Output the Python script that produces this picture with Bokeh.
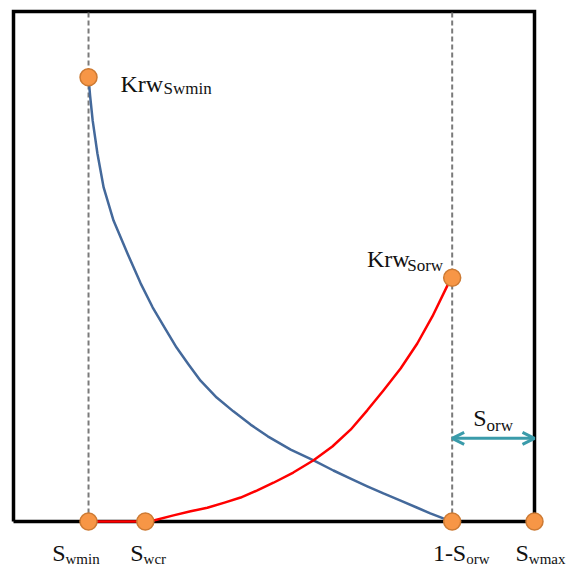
from bokeh.plotting import figure
from bokeh.models import Range1d, Arrow, OpenHead
from bokeh.core.properties import value
from bokeh.embed import file_html
from bokeh.resources import INLINE

# ---- data (normalised saturation on x, relative permeability on y) ----
swmin = 0.144
swcr = 0.253
one_minus_sorw = 0.842
swmax = 1.0
krw_swmin = 0.871
krw_sorw = 0.478

# blue curve (decreasing)
blue_x = [0.144, 0.147, 0.152, 0.161, 0.173, 0.192, 0.219, 0.244, 0.267, 0.290,
          0.313, 0.336, 0.359, 0.390, 0.422, 0.455, 0.488, 0.532, 0.576, 0.614,
          0.647, 0.679, 0.710, 0.743, 0.775, 0.800, 0.825, 0.842]
blue_y = [0.871, 0.835, 0.786, 0.722, 0.655, 0.590, 0.525, 0.467, 0.420, 0.380,
          0.341, 0.308, 0.276, 0.243, 0.216, 0.190, 0.167, 0.141, 0.120, 0.100,
          0.084, 0.069, 0.055, 0.041, 0.027, 0.016, 0.006, 0.0]

# red curve (increasing)
red_x = [0.144, 0.253, 0.269, 0.307, 0.340, 0.372, 0.405, 0.436, 0.468, 0.499,
         0.537, 0.576, 0.612, 0.647, 0.679, 0.710, 0.743, 0.775, 0.804, 0.833, 0.842]
red_y = [0.0, 0.0, 0.002, 0.012, 0.020, 0.027, 0.037, 0.047, 0.061, 0.076,
         0.096, 0.120, 0.147, 0.180, 0.218, 0.257, 0.300, 0.349, 0.402, 0.463, 0.478]

point_x = [swmin, swmin, swcr, one_minus_sorw, swmax, one_minus_sorw]
point_y = [krw_swmin, 0.0, 0.0, 0.0, 0.0, krw_sorw]

arrow_y = 0.163

FONT = value("Liberation Serif")

p = figure(width=566, height=567, output_backend="svg", toolbar_location=None,
           x_axis_type=None, y_axis_type=None,
           x_range=Range1d(-13 / 521, 553 / 521), y_range=Range1d(-46 / 510, 521 / 510))
p.min_border = 0
p.outline_line_color = None
p.xgrid.visible = False
p.ygrid.visible = False
p.background_fill_color = "white"
p.border_fill_color = "white"

# box
p.line([0, 0, 1, 1, 0], [0, 1, 1, 0, 0], line_color="black", line_width=3.5,
       line_join="miter")

# dashed verticals
for xv in (swmin, one_minus_sorw):
    p.line([xv, xv], [0, 1], line_color="#7a7a7a", line_width=2, line_dash="5 3")

# curves
p.line(blue_x, blue_y, line_color="#44699B", line_width=2.5, line_join="round")
p.line(red_x, red_y, line_color="#FF0000", line_width=2.5, line_join="round")

# arrow
arr_color = "#3A9BAA"
p.add_layout(Arrow(x_start=one_minus_sorw, y_start=arrow_y, x_end=swmax, y_end=arrow_y,
                   line_color=arr_color, line_width=3,
                   start=OpenHead(size=12, line_color=arr_color, line_width=3),
                   end=OpenHead(size=12, line_color=arr_color, line_width=3)))

# markers
p.scatter(point_x, point_y, size=17, fill_color="#F79646", line_color="#CD7A33",
          line_width=1.5)

# labels: (main, sub, anchor x, anchor y, main dx, main dy, sub dx, sub dy, sub size)
labels = [
    ("Krw", "Swmin", swmin, krw_swmin, 32, 6.5, 75, 11.5, "17px"),
    ("Krw", "Sorw", one_minus_sorw, krw_sorw, -85.3, -18.7, -45, -12, "17px"),
    ("S", "wmin", swmin, 0.0, -36.3, 31, -23, 37, "15px"),
    ("S", "wcr", swcr, 0.0, -15, 31, -1.7, 37, "15px"),
    ("1-S", "orw", one_minus_sorw, 0.0, -19.3, 31, 14, 37, "15px"),
    ("S", "wmax", swmax, 0.0, -19, 31, -5.7, 37, "15px"),
    ("S", "orw", one_minus_sorw, arrow_y, 21, -20, 34.3, -13, "17px"),
]
for main, sub, ax, ay, mdx, mdy, sdx, sdy, ssz in labels:
    p.text([ax], [ay], text=[main], x_offset=mdx, y_offset=mdy,
           text_font=FONT, text_font_size="24px", text_color="#111111",
           text_align="left", text_baseline="alphabetic")
    p.text([ax], [ay], text=[sub], x_offset=sdx, y_offset=sdy,
           text_font=FONT, text_font_size=ssz, text_color="#111111",
           text_align="left", text_baseline="alphabetic")

open("out.html", "w").write(file_html(p, INLINE))
